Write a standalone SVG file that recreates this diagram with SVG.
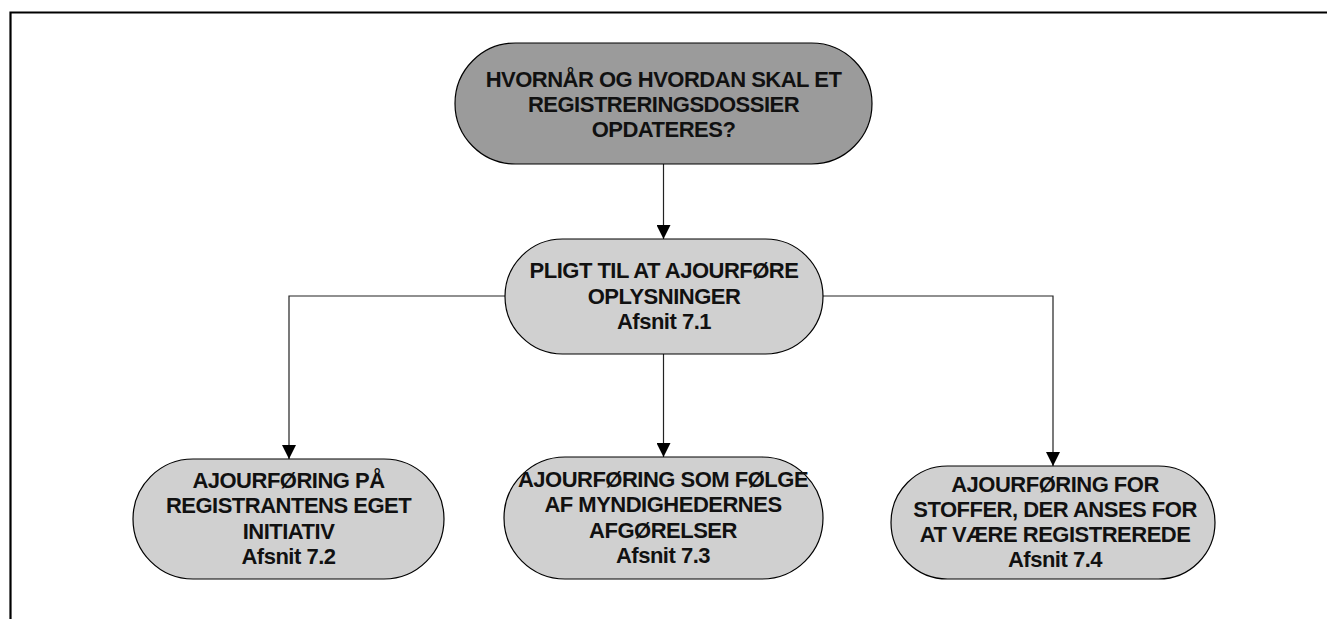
<svg xmlns="http://www.w3.org/2000/svg" width="1327" height="619" viewBox="0 0 1327 619">
  <style>
    .page { fill: none; stroke: #000; stroke-width: 2.2; }
    .node { stroke: #000; stroke-width: 1.2; }
    .dark { fill: #9b9b9b; }
    .light { fill: #d0d0d0; }
    .conn { fill: none; stroke: #222; stroke-width: 1.2; }
    text { font-family: "Liberation Sans", Arial, sans-serif; font-weight: bold; font-size: 22px; letter-spacing: -0.5px; fill: #111; text-anchor: middle; }
  </style>
  <defs>
    <marker id="arrow" markerUnits="userSpaceOnUse" markerWidth="14" markerHeight="14" refX="14" refY="7" orient="auto">
      <path d="M0,0 L14,7 L0,14 Z" fill="#000"/>
    </marker>
  </defs>

  <!-- page frame -->
  <path class="page" d="M10.5,619 V12.5 H1327"/>

  <!-- connectors -->
  <g id="connectors">
    <line class="conn" x1="663.5" y1="164" x2="663.5" y2="239" marker-end="url(#arrow)"/>
    <polyline class="conn" points="505,296 289,296 289,459" marker-end="url(#arrow)"/>
    <line class="conn" x1="663.5" y1="354" x2="663.5" y2="457" marker-end="url(#arrow)"/>
    <polyline class="conn" points="823,296 1053,296 1053,466" marker-end="url(#arrow)"/>
  </g>

  <g id="node-question">
    <rect class="node dark" x="455" y="43" width="417" height="121" rx="60.5" ry="60.5"/>
    <text x="663.5" y="87">HVORNÅR OG HVORDAN SKAL ET</text>
    <text x="663.5" y="112">REGISTRERINGSDOSSIER</text>
    <text x="663.5" y="137">OPDATERES?</text>
  </g>

  <g id="node-duty">
    <rect class="node light" x="505" y="239" width="318" height="115" rx="57.5" ry="57.5"/>
    <text x="664" y="278">PLIGT TIL AT AJOURFØRE</text>
    <text x="664" y="304">OPLYSNINGER</text>
    <text x="664" y="329">Afsnit 7.1</text>
  </g>

  <g id="node-own-initiative">
    <rect class="node light" x="133" y="459" width="311" height="120" rx="60" ry="60"/>
    <text x="288.5" y="488">AJOURFØRING PÅ</text>
    <text x="288.5" y="513">REGISTRANTENS EGET</text>
    <text x="288.5" y="539">INITIATIV</text>
    <text x="288.5" y="564">Afsnit 7.2</text>
  </g>

  <g id="node-authority-decisions">
    <rect class="node light" x="504" y="457" width="319" height="122" rx="61" ry="61"/>
    <text x="663" y="487">AJOURFØRING SOM FØLGE</text>
    <text x="663" y="512">AF MYNDIGHEDERNES</text>
    <text x="663" y="538">AFGØRELSER</text>
    <text x="663" y="563">Afsnit 7.3</text>
  </g>

  <g id="node-deemed-registered">
    <rect class="node light" x="891" y="466" width="324" height="113" rx="56.5" ry="56.5"/>
    <text x="1055" y="492">AJOURFØRING FOR</text>
    <text x="1055" y="517">STOFFER, DER ANSES FOR</text>
    <text x="1055" y="542">AT VÆRE REGISTREREDE</text>
    <text x="1055" y="567">Afsnit 7.4</text>
  </g>
</svg>
